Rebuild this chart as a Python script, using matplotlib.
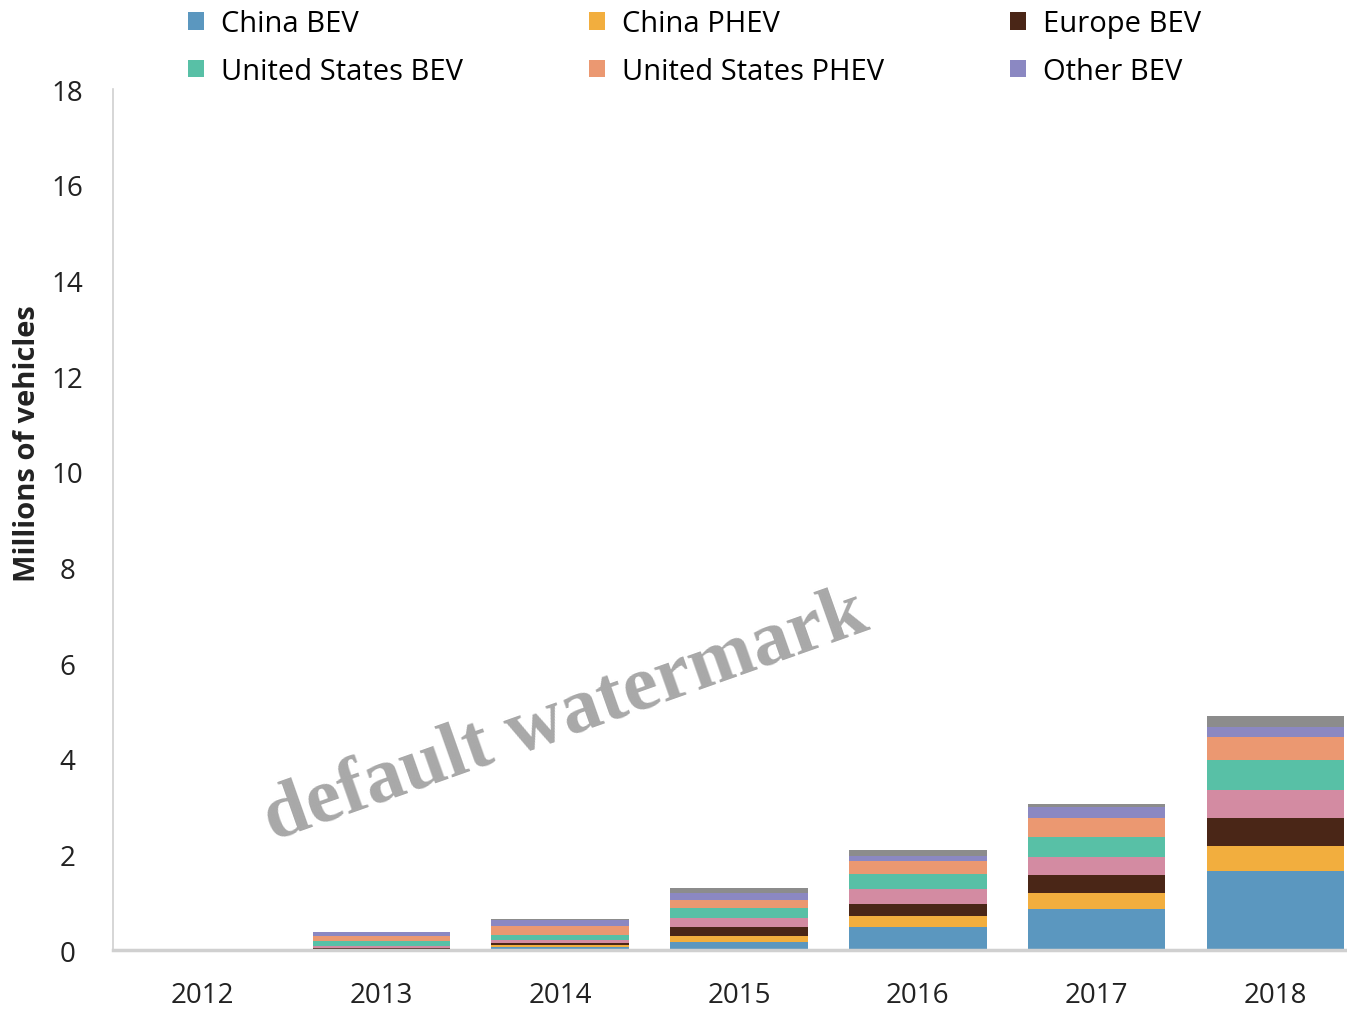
import numpy as np
import matplotlib
matplotlib.use("Agg")
import matplotlib.pyplot as plt

plt.rcParams['font.family'] = ['Open Sans', 'DejaVu Sans']

years = ['2012', '2013', '2014', '2015', '2016', '2017', '2018']

# millions of vehicles, bottom to top of each stack
china_bev = [0.0, 0.02, 0.07, 0.17, 0.48, 0.86, 1.65]
china_phev = [0.0, 0.01, 0.03, 0.12, 0.23, 0.33, 0.52]
europe_bev = [0.0, 0.02, 0.06, 0.19, 0.25, 0.38, 0.59]
europe_phev = [0.0, 0.03, 0.06, 0.19, 0.32, 0.37, 0.59]
us_bev = [0.0, 0.11, 0.10, 0.21, 0.31, 0.42, 0.62]
us_phev = [0.0, 0.10, 0.18, 0.17, 0.27, 0.40, 0.48]
other_bev = [0.0, 0.09, 0.13, 0.14, 0.11, 0.23, 0.21]
other_phev = [0.0, 0.0, 0.02, 0.11, 0.12, 0.06, 0.23]

series = [
    ('China BEV', china_bev, '#5b97bf'),
    ('China PHEV', china_phev, '#f2ae3e'),
    ('Europe BEV', europe_bev, '#4a2617'),
    (None, europe_phev, '#d38ba2'),
    ('United States BEV', us_bev, '#58c0a6'),
    ('United States PHEV', us_phev, '#eb9871'),
    ('Other BEV', other_bev, '#8b88c2'),
    (None, other_phev, '#8c8c8c'),
]

fig = plt.figure(figsize=(13.47, 10.12), dpi=100)
ax = fig.add_axes([0.084, 0.060, 0.916, 0.851])

x = np.arange(len(years))
bottom = np.zeros(len(years))
handles = {}
for name, vals, col in series:
    bars = ax.bar(x, vals, width=0.77, bottom=bottom, color=col, label=name)
    if name:
        handles[name] = bars
    bottom += np.array(vals)

ax.set_ylim(0, 18)
ax.set_yticks(range(0, 19, 2))
ax.set_xlim(-0.5, 6.4)
ax.set_xticks(x)
ax.set_xticklabels(years)
ax.tick_params(axis='both', length=0, labelsize=20, colors='#222222')
ax.tick_params(axis='x', pad=22)
ax.tick_params(axis='y', pad=33)
for lab in ax.get_yticklabels():
    lab.set_horizontalalignment('center')

for s in ['top', 'right']:
    ax.spines[s].set_visible(False)
ax.spines['left'].set_color('#d0d0d0')
ax.spines['left'].set_linewidth(1.2)
ax.spines['bottom'].set_color('#d0d0d0')
ax.spines['bottom'].set_linewidth(2.5)

ax.set_ylabel('Millions of vehicles', fontsize=21, fontweight='bold', color='#222222')
ax.yaxis.set_label_coords(-0.058, 0.59)

order = ['China BEV', 'China PHEV', 'Europe BEV',
         'United States BEV', 'United States PHEV', 'Other BEV']
# legend fills row by row: reorder for column-major filling
colmajor = [order[i] for i in (0, 3, 1, 4, 2, 5)]
fig.legend([handles[n] for n in colmajor], colmajor, ncol=3, loc='upper left',
           bbox_to_anchor=(0.12, 1.016), frameon=False, fontsize=21,
           handlelength=0.55, handleheight=0.55, handletextpad=0.6,
           columnspacing=4.3, labelspacing=0.65)

fig.text(0.42, 0.291, 'default watermark', rotation=19.5, fontsize=57,
         fontweight='bold', family=['Liberation Serif', 'DejaVu Serif'],
         color='#a8a8a8', ha='center', va='center')

fig.savefig('out.png', dpi=100)
